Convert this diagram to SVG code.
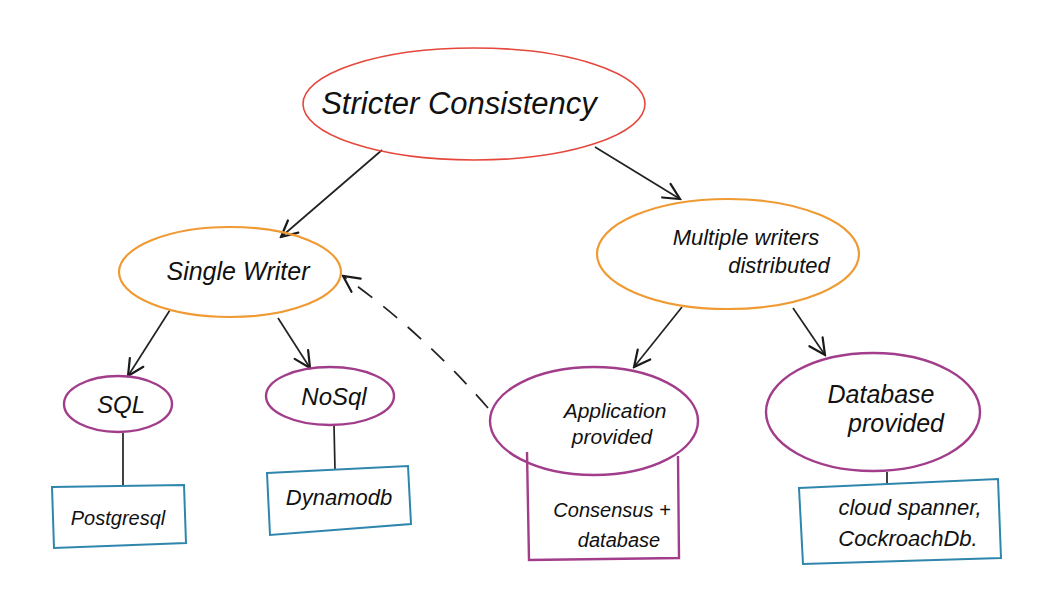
<svg xmlns="http://www.w3.org/2000/svg" width="1054" height="610" viewBox="0 0 1054 610">
<defs>
<marker id="ah" viewBox="0 0 20 20" refX="18" refY="10" markerWidth="20" markerHeight="20" markerUnits="userSpaceOnUse" orient="auto">
<path d="M2,2 L18,10 L2,18" fill="none" stroke="#1a1a1a" stroke-width="2.2" stroke-linecap="round"/>
</marker>
</defs>
<style>
.t{font-family:"Liberation Sans",Arial,sans-serif;font-style:italic;fill:#111;text-anchor:middle}
.red{fill:none;stroke:#e5473d;stroke-width:1.6}
.org{fill:none;stroke:#ef9a33;stroke-width:2.2}
.pur{fill:none;stroke:#a23d8b;stroke-width:2.4}
.blu{fill:none;stroke:#2f86ad;stroke-width:2}
.c{fill:none;stroke:#222;stroke-width:1.7}
</style>
<rect width="1054" height="610" fill="#ffffff"/>
<g id="connectors">
<line class="c" x1="382" y1="150" x2="281" y2="237" marker-end="url(#ah)"/>
<line class="c" x1="595" y1="147" x2="680" y2="199" marker-end="url(#ah)"/>
<line class="c" x1="170" y1="310" x2="128" y2="376" marker-end="url(#ah)"/>
<line class="c" x1="278" y1="318" x2="310" y2="368" marker-end="url(#ah)"/>
<line class="c" x1="682" y1="307" x2="634" y2="367" marker-end="url(#ah)"/>
<line class="c" x1="793" y1="308" x2="825" y2="355" marker-end="url(#ah)"/>
<path class="c" d="M488,408 Q420,330 343,276" stroke-dasharray="18,14" marker-end="url(#ah)"/>
<line class="c" x1="123" y1="433" x2="123" y2="486"/>
<line class="c" x1="334" y1="425" x2="335" y2="470"/>
<line class="c" x1="887" y1="472" x2="887" y2="485"/>
</g>
<g id="stricter">
<ellipse class="red" cx="474" cy="104" rx="171" ry="56"/>
<text class="t" x="459" y="114" font-size="31">Stricter Consistency</text>
</g>
<g id="single-writer">
<ellipse class="org" cx="230" cy="272" rx="111" ry="45"/>
<text class="t" x="238" y="280" font-size="25">Single Writer</text>
</g>
<g id="multiple-writers">
<ellipse class="org" cx="728" cy="254" rx="131" ry="55"/>
<text class="t" x="746" y="245" font-size="22">Multiple writers</text>
<text class="t" x="779" y="273" font-size="22">distributed</text>
</g>
<g id="sql">
<ellipse class="pur" cx="118" cy="404" rx="54" ry="28"/>
<text class="t" x="121" y="413" font-size="24">SQL</text>
</g>
<g id="nosql">
<ellipse class="pur" cx="330" cy="396" rx="64" ry="29"/>
<text class="t" x="334" y="405" font-size="24">NoSql</text>
</g>
<g id="postgresql">
<polygon class="blu" points="52,487 184,485 186,543 54,548"/>
<text class="t" x="118" y="525" font-size="20">Postgresql</text>
</g>
<g id="dynamodb">
<polygon class="blu" points="267,473 408,466 411,524 270,535"/>
<text class="t" x="339" y="505" font-size="22">Dynamodb</text>
</g>
<g id="application">
<path class="pur" d="M527,452 L529,560 L679,558 L678,456"/>
<ellipse class="pur" cx="594" cy="421" rx="104" ry="54"/>
<text class="t" x="615" y="418" font-size="21">Application</text>
<text class="t" x="612" y="444" font-size="21">provided</text>
<text class="t" x="612" y="517" font-size="20">Consensus +</text>
<text class="t" x="619" y="547" font-size="20">database</text>
</g>
<g id="database">
<ellipse class="pur" cx="873" cy="412" rx="107" ry="59"/>
<text class="t" x="881" y="403" font-size="25">Database</text>
<text class="t" x="896" y="432" font-size="25">provided</text>
</g>
<g id="cloud-spanner">
<polygon class="blu" points="799,488 998,479 1001,558 803,564"/>
<text class="t" x="910" y="515" font-size="22">cloud spanner,</text>
<text class="t" x="908" y="546" font-size="22">CockroachDb.</text>
</g>
</svg>
